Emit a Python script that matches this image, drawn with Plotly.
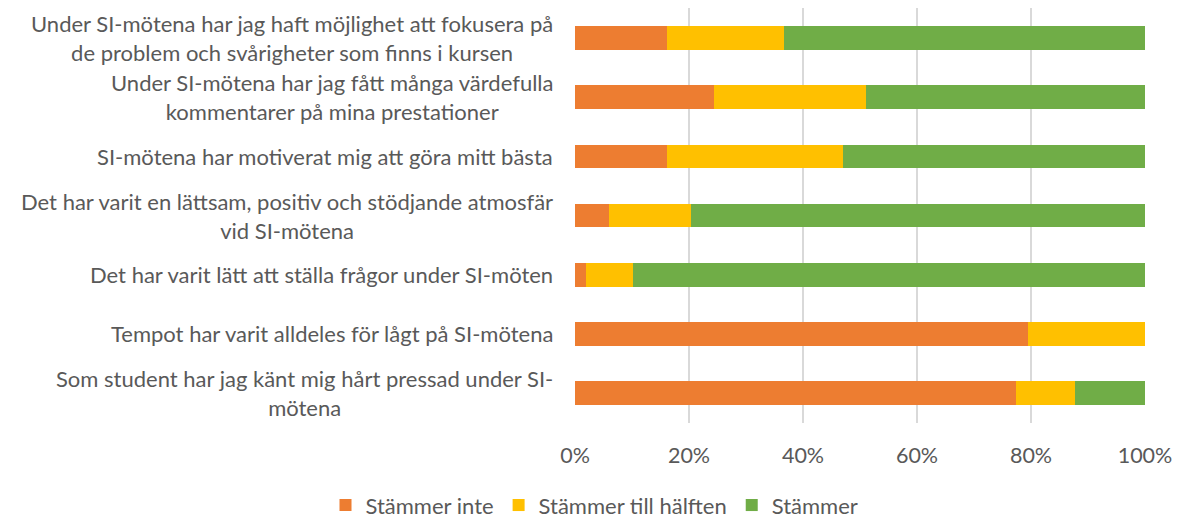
import plotly.graph_objects as go

categories = [
    "Under SI-mötena har jag haft möjlighet att fokusera på<br>de problem och svårigheter som finns i kursen",
    "Under SI-mötena har jag fått många värdefulla<br>kommentarer på mina prestationer",
    "SI-mötena har motiverat mig att göra mitt bästa",
    "Det har varit en lättsam, positiv och stödjande atmosfär<br>vid SI-mötena",
    "Det har varit lätt att ställa frågor under SI-möten",
    "Tempot har varit alldeles för lågt på SI-mötena",
    "Som student har jag känt mig hårt pressad under SI-<br>mötena",
]
stammer_inte = [0.162, 0.244, 0.162, 0.060, 0.019, 0.795, 0.774]
stammer_halften = [0.205, 0.266, 0.308, 0.143, 0.083, 0.205, 0.103]
stammer = [0.633, 0.490, 0.530, 0.797, 0.898, 0.0, 0.123]

series = [
    ("Stämmer inte", stammer_inte, "#ED7D31"),
    ("Stämmer till hälften", stammer_halften, "#FFC000"),
    ("Stämmer", stammer, "#70AD47"),
]

keys = [f"c{i}" for i in range(len(categories))]

fig = go.Figure()
for name, vals, color in series:
    fig.add_trace(go.Bar(
        y=keys, x=vals, name=name, orientation="h",
        marker=dict(color=color, line=dict(width=0)),
    ))

font_family = "Lato, 'Open Sans', sans-serif"
for k, lab in zip(keys, categories):
    fig.add_annotation(
        x=0, xref="paper", xshift=-20, y=k, yref="y",
        text=lab, showarrow=False, xanchor="right", yanchor="middle",
        align="center",
        font=dict(size=22, color="#595959", family=font_family),
    )

fig.update_layout(
    barmode="stack",
    bargap=0.6,
    width=1173, height=510,
    margin=dict(l=567, r=36, t=0, b=95, autoexpand=False),
    paper_bgcolor="white", plot_bgcolor="white",
    font=dict(family=font_family, size=22, color="#595959"),
    xaxis=dict(
        range=[0, 1], tickformat=".0%", dtick=0.2,
        showgrid=True, gridcolor="#D9D9D9", gridwidth=1.5,
        zeroline=False, showline=False, ticks="", automargin=False,
        tickfont=dict(size=21.5, color="#595959"),
        ticklabelstandoff=17,
    ),
    yaxis=dict(
        categoryorder="array", categoryarray=keys, autorange="reversed",
        showticklabels=False, showgrid=False, zeroline=False, ticks="",
        automargin=False,
    ),
    legend=dict(
        orientation="h", xref="container", yref="container",
        x=0.5, xanchor="center", y=0.025, yanchor="middle",
        font=dict(size=22, color="#595959"), traceorder="normal",
    ),
)

fig.write_html("out.html")
